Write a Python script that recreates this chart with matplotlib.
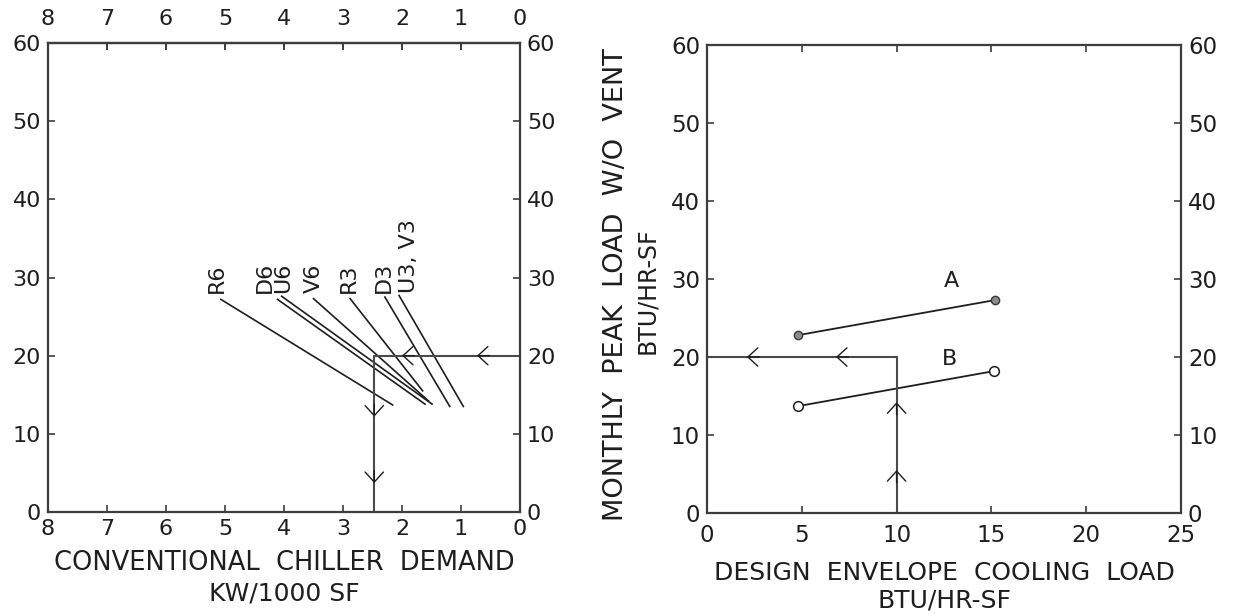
import matplotlib
matplotlib.use("Agg")
import matplotlib.pyplot as plt

# ---------------- data ----------------
# Left panel: conventional chiller demand (KW/1000 SF) vs monthly peak load
chiller_ticks = [8, 7, 6, 5, 4, 3, 2, 1, 0]
peak_ticks = [0, 10, 20, 30, 40, 50, 60]
series_names = ["R6", "D6", "U6", "V6", "R3", "D3", "U3, V3"]
line_x_start = [5.07, 4.11, 4.04, 3.50, 2.88, 2.29, 2.05]
line_y_start = [27.2, 27.2, 27.6, 27.3, 27.3, 27.5, 27.7]
line_x_end = [2.16, 1.61, 1.49, 1.55, 1.65, 1.19, 0.96]
line_y_end = [13.7, 13.8, 13.8, 14.2, 15.5, 13.5, 13.5]
label_x = [5.14, 4.33, 4.01, 3.50, 2.90, 2.31, 1.88]
label_y = [28.0, 28.0, 28.0, 28.0, 28.0, 28.0, 28.0]

left_path_x = [0, 2.47, 2.47]
left_path_y = [20, 20, 0]
left_arrow_left_x = [0.73, 2.0]      # chevrons pointing left along y=20
left_arrow_down_y = [12.2, 3.7]      # chevrons pointing down along x=2.47

# Right panel: design envelope cooling load vs monthly peak load
envelope_ticks = [0, 5, 10, 15, 20, 25]
curve_a_x = [4.8, 15.2]
curve_a_y = [22.8, 27.3]
curve_b_x = [4.8, 15.15]
curve_b_y = [13.7, 18.2]
curve_labels = ["A", "B"]
curve_label_x = [12.9, 12.8]
curve_label_y = [28.4, 18.4]

right_path_x = [10, 10, 0]
right_path_y = [0, 20, 20]
right_arrow_up_y = [5.5, 14.2]
right_arrow_left_x = [2.1, 6.8]

# ---------------- style ----------------
plt.rcParams["font.family"] = ["DejaVu Sans"]
INK = "#1e1e1e"
SPINE = "#3c3c3c"

fig = plt.figure(figsize=(12.35, 6.14), dpi=100)
W, H = 1235.0, 614.0
axL = fig.add_axes([48 / W, 1 - 512 / H, 472 / W, 469 / H])
axR = fig.add_axes([707 / W, 1 - 513 / H, 474 / W, 468 / H])


def style_axes(ax, labelsize, pad):
    for s in ax.spines.values():
        s.set_linewidth(1.6)
        s.set_color(SPINE)
    ax.tick_params(direction="in", length=5, width=1.2, colors=SPINE,
                   labelcolor=INK, labelsize=labelsize,
                   right=True, labelright=True, pad=pad)


def chevron(ax, xy, offset):
    ax.annotate("", xy=xy, xytext=offset, textcoords="offset points",
                arrowprops=dict(arrowstyle="->,head_length=0.6,head_width=0.55",
                                color=INK, lw=1.0, shrinkA=0, shrinkB=0,
                                mutation_scale=12))


# ---------- left panel ----------
axL.set_xlim(8, 0)
axL.set_ylim(0, 60)
axL.set_xticks(chiller_ticks)
axL.set_xticklabels([str(t) for t in chiller_ticks])
axL.set_yticks(peak_ticks)
axL.set_yticklabels([str(t) for t in peak_ticks])
style_axes(axL, 16, 5)
axL.tick_params(axis="x", top=True, labeltop=False)

secL = axL.secondary_xaxis("top")
secL.set_xticks(chiller_ticks)
secL.set_xticklabels([str(t) for t in chiller_ticks])
secL.tick_params(direction="in", length=5, width=1.2, colors=SPINE,
                 labelcolor=INK, labelsize=16, pad=10)
secL.spines["top"].set_linewidth(1.6)
secL.spines["top"].set_color(SPINE)

for xs, ys, xe, ye in zip(line_x_start, line_y_start, line_x_end, line_y_end):
    axL.plot([xs, xe], [ys, ye], color=INK, lw=1.2)
for name, lx, ly in zip(series_names, label_x, label_y):
    axL.text(lx, ly, name, rotation=90, ha="center", va="bottom",
             fontsize=16, color=INK)

axL.plot(left_path_x, left_path_y, color="#4a4a4a", lw=1.5)
for ax_x in left_arrow_left_x:
    chevron(axL, (ax_x, left_path_y[0]), (9, 0))
for ay in left_arrow_down_y:
    chevron(axL, (left_path_x[1], ay), (0, 9))

axL.text(0.5, -0.109, "CONVENTIONAL  CHILLER  DEMAND", transform=axL.transAxes,
         ha="center", va="center", fontsize=18.5, color=INK)
axL.text(0.5, -0.173, "KW/1000 SF", transform=axL.transAxes,
         ha="center", va="center", fontsize=18, color=INK)

# ---------- right panel ----------
axR.set_xlim(0, 25)
axR.set_ylim(0, 60)
axR.set_xticks(envelope_ticks)
axR.set_xticklabels([str(t) for t in envelope_ticks])
axR.set_yticks(peak_ticks)
axR.set_yticklabels([str(t) for t in peak_ticks])
style_axes(axR, 16.5, 5)
axR.tick_params(axis="x", top=True, labeltop=False, pad=8)

axR.plot(curve_a_x, curve_a_y, color=INK, lw=1.3, marker="o", ms=6,
         mfc="#8a8a8a", mec="#3a3a3a", mew=1.0)
axR.plot(curve_b_x, curve_b_y, color=INK, lw=1.3, marker="o", ms=7,
         mfc="white", mec=INK, mew=1.1)
for name, lx, ly in zip(curve_labels, curve_label_x, curve_label_y):
    axR.text(lx, ly, name, ha="center", va="bottom", fontsize=16, color=INK)

axR.plot(right_path_x, right_path_y, color="#4a4a4a", lw=1.5)
for ay in right_arrow_up_y:
    chevron(axR, (right_path_x[0], ay), (0, -9))
for ax_x in right_arrow_left_x:
    chevron(axR, (ax_x, right_path_y[1]), (9, 0))

axR.text(0.5, -0.128, "DESIGN  ENVELOPE  COOLING  LOAD", transform=axR.transAxes,
         ha="center", va="center", fontsize=18, color=INK)
axR.text(0.5, -0.188, "BTU/HR-SF", transform=axR.transAxes,
         ha="center", va="center", fontsize=18, color=INK)
axR.text(-0.192, 0.487, "MONTHLY  PEAK  LOAD  W/O  VENT", transform=axR.transAxes,
         rotation=90, ha="center", va="center", fontsize=19.5, color=INK)
axR.text(-0.127, 0.474, "BTU/HR-SF", transform=axR.transAxes,
         rotation=90, ha="center", va="center", fontsize=17, color=INK)

fig.savefig("out.png", dpi=100)
